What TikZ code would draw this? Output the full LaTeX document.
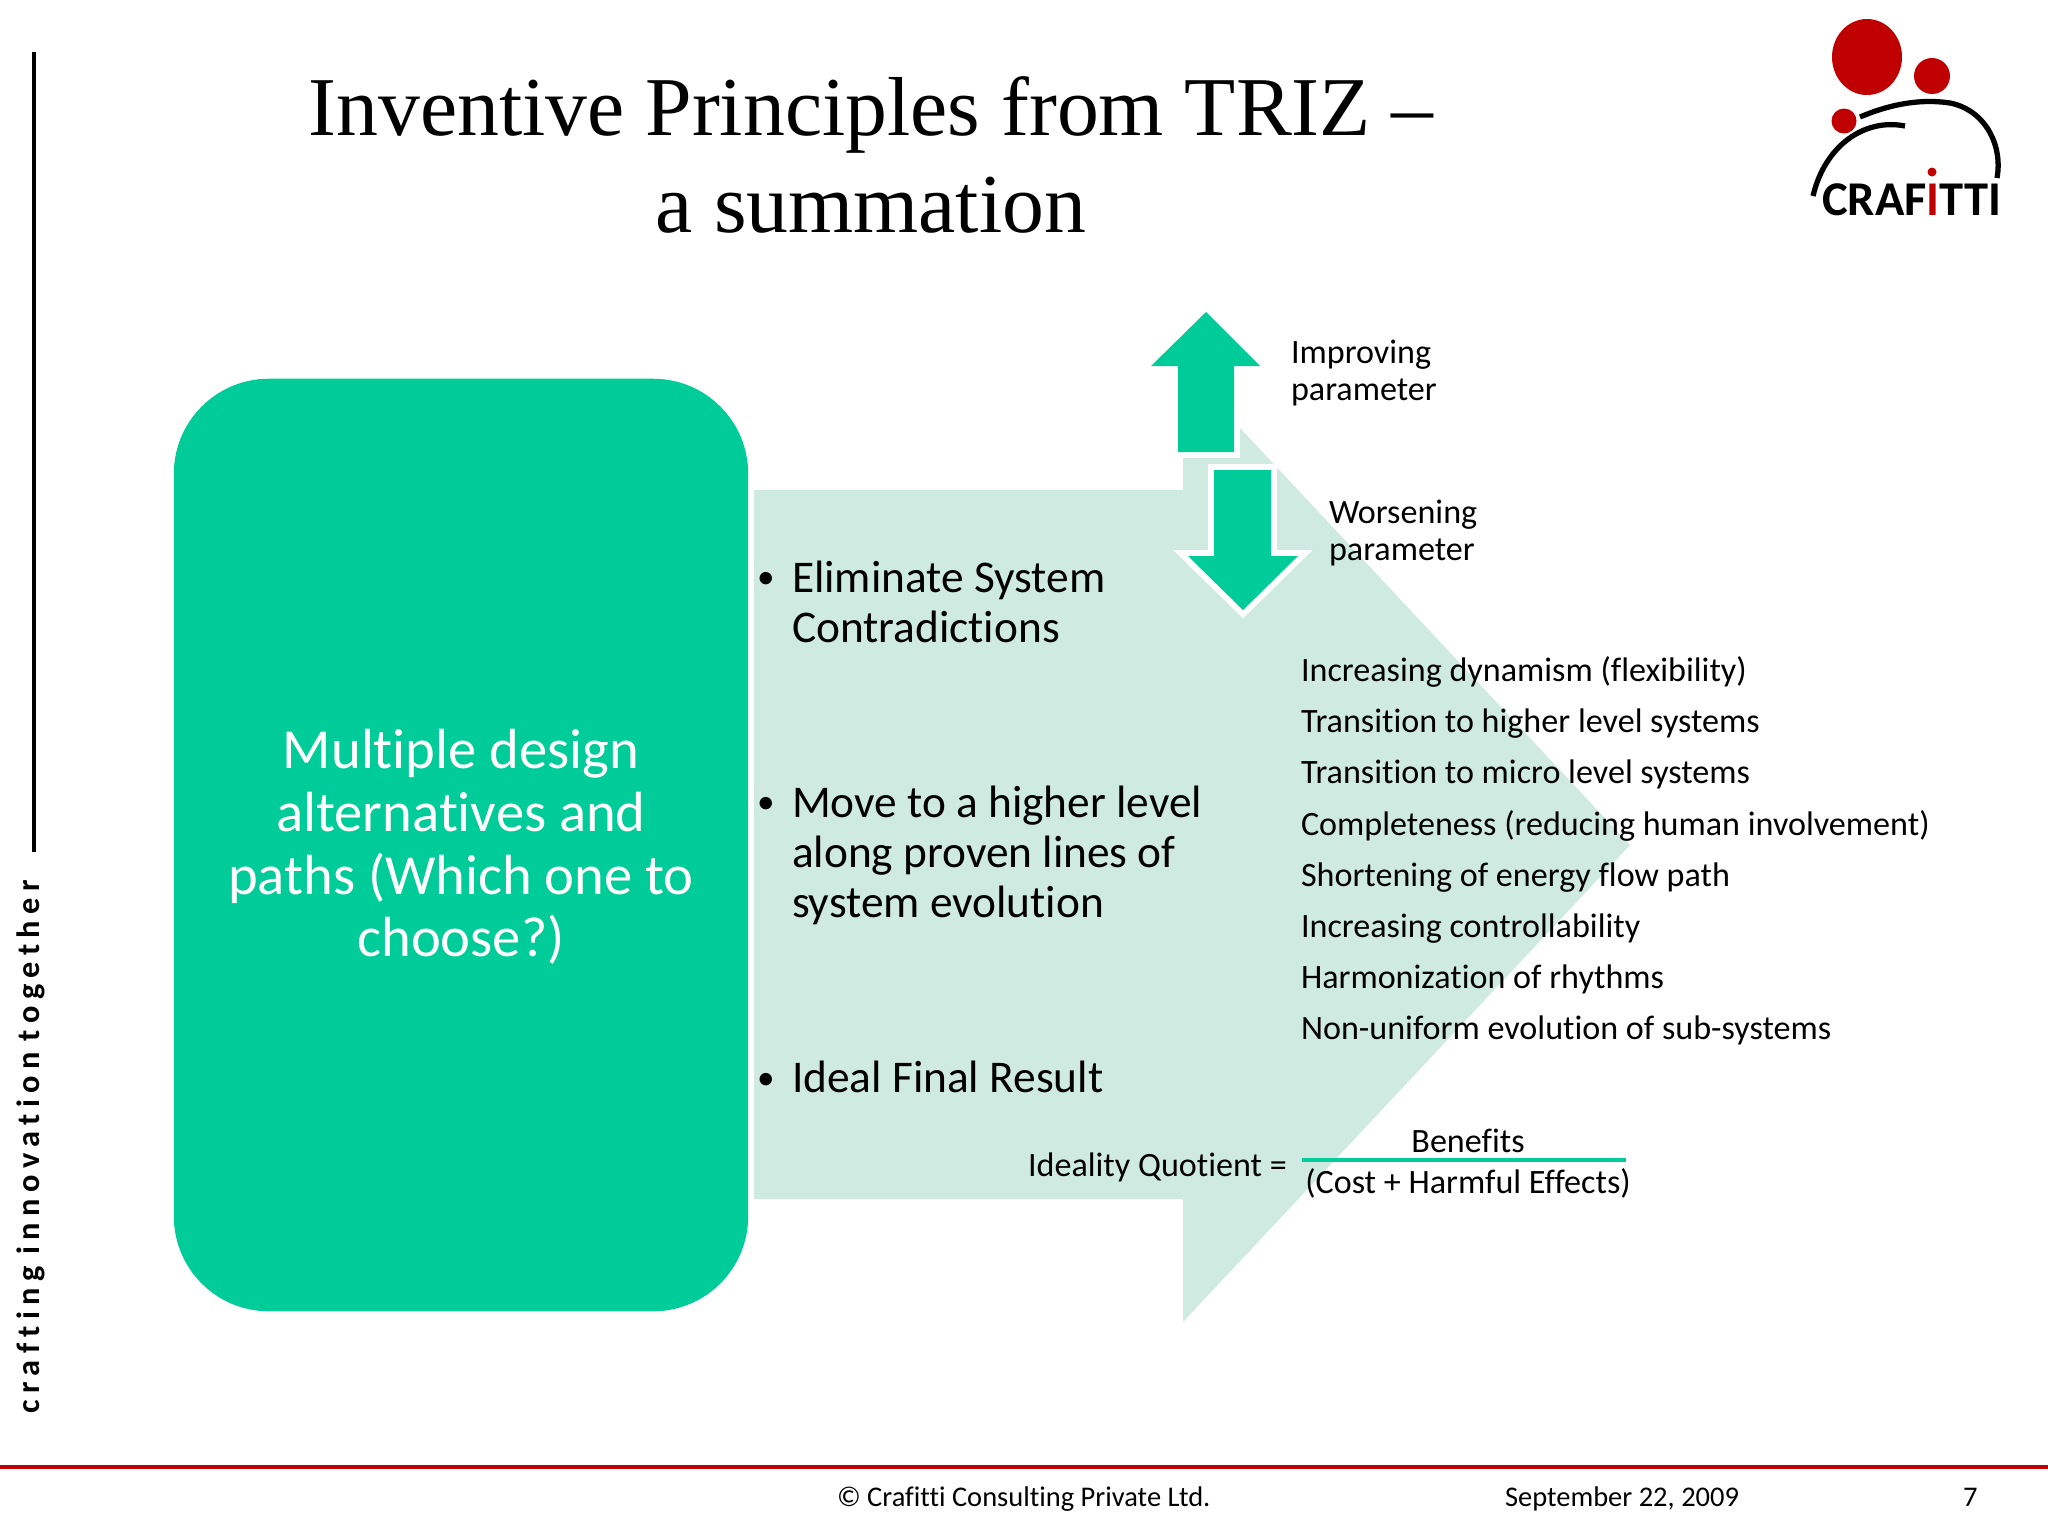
\documentclass[tikz,border=0pt]{standalone}
\usepackage{fontspec}
\setmainfont[Ligatures=NoCommon]{Carlito}
\newfontfamily\titlefont{Liberation Serif}
\newfontfamily\spacedfont[LetterSpace=20,Ligatures=NoCommon,WordSpace=0.8]{Carlito}
\definecolor{trizgreen}{HTML}{00CC99}
\definecolor{trizpale}{HTML}{CFEBE1}
\definecolor{trizred}{HTML}{C00000}
\tikzset{
  txt/.style = {inner sep=0,outer sep=0,text=black,anchor=base west},
  titletxt/.style = {txt,anchor=base,font=\titlefont\fontsize{23.8}{28}\selectfont},
  small/.style = {txt,font=\fontsize{9.7}{10.4}\selectfont},
  bullettxt/.style = {txt,font=\fontsize{12.9}{14.3}\selectfont},
  bulletdot/.style = {txt,font=\fontsize{10}{12}\selectfont},
  foot/.style = {txt,font=\fontsize{8.1}{10}\selectfont},
  halo/.style = {draw=white,line width=3.4pt,line join=miter}
}
\begin{document}
\begin{tikzpicture}[x=0.01cm,y=-0.01cm]
   \useasboundingbox (0,0) rectangle (2048,1536);
   % side bar
   \coordinate (bartop) at (34,52);
   \coordinate (barend) at (34,852);
   \draw[line width=1pt,black] (bartop) -- (barend);
   \node[inner sep=0,rotate=90,anchor=west,font=\spacedfont\bfseries\fontsize{9.2}{10}\selectfont] (sidetxt) at (31,1414) {crafting innovation together};
   % title
   \node[titletxt] (title1) at (871,135) {Inventive Principles from TRIZ –};
   \node[titletxt] (title2) at (871,232) {a summation};
   % block arrow and box
   \fill[trizpale] (754,490) -- (1183,490) -- (1183,367) -- (1630,845) -- (1183,1322) -- (1183,1199) -- (754,1199) -- cycle;
   \node[fill=trizgreen,rounded corners=27pt,minimum width=5.74cm,minimum height=9.32cm,inner sep=0] (choices) at (461,845) {};
   \node[inner sep=0,align=center,text=white,font=\fontsize{16.1}{17.8}\selectfont] (choicestxt) at (461,847)
     {Multiple design\\alternatives and\\paths (Which one to\\choose?)};
   % small arrows
   \draw[halo] (1206,312) -- (1260,366) -- (1234,366) -- (1234,452) -- (1178,452) -- (1178,366) -- (1151,366) -- cycle;
   \draw[halo] (1243,610) -- (1298,556) -- (1271,556) -- (1271,470) -- (1214,470) -- (1214,556) -- (1188,556) -- cycle;
   \fill[trizgreen] (1206,312) -- (1260,366) -- (1234,366) -- (1234,452) -- (1178,452) -- (1178,366) -- (1151,366) -- cycle;
   \fill[trizgreen] (1243,610) -- (1298,556) -- (1271,556) -- (1271,470) -- (1214,470) -- (1214,556) -- (1188,556) -- cycle;
   \node[small] (improving) at (1291,363) {Improving};
   \node[small] (improving2) at (1291,400) {parameter};
   \node[small] (worsening) at (1329,523) {Worsening};
   \node[small] (worsening2) at (1329,560) {parameter};
   % bullets
   \node[bulletdot] (b1) at (757,588) {\textbullet};
   \node[bullettxt] (elim) at (792,592) {Eliminate System};
   \node[bullettxt] (elim2) at (792,642) {Contradictions};
   \node[bulletdot] (b2) at (757,813) {\textbullet};
   \node[bullettxt] (move) at (792,817) {Move to a higher level};
   \node[bullettxt] (move2) at (792,867) {along proven lines of};
   \node[bullettxt] (move3) at (792,917) {system evolution};
   \node[bulletdot] (b3) at (757,1089) {\textbullet};
   \node[bullettxt] (ideal) at (792,1092) {Ideal Final Result};
   % list of principles
   \foreach \ypos/\name/\label in {
     681/p1/Increasing dynamism (flexibility),
     732/p2/Transition to higher level systems,
     783/p3/Transition to micro level systems,
     835/p4/Completeness (reducing human involvement),
     886/p5/Shortening of energy flow path,
     937/p6/Increasing controllability,
     988/p7/Harmonization of rhythms,
     1039/p8/Non-uniform evolution of sub-systems}
     \node[small] (\name) at (1301,\ypos) {\label};
   % quotient
   \node[small] (iq) at (1028,1176) {Ideality Quotient =};
   \node[small,anchor=base] (benefits) at (1468,1152) {Benefits};
   \node[small,anchor=base] (costs) at (1468,1193) {(Cost + Harmful Effects)};
   \coordinate (fracl) at (1302,1160);
   \coordinate (fracr) at (1626,1160);
   \draw[line width=0.9pt,trizgreen] (fracl) -- (fracr);
   % logo
   \fill[trizred] (1867,57) ellipse [x radius=35,y radius=38];
   \fill[trizred] (1932,76) circle [radius=18];
   \fill[trizred] (1844,121) circle [radius=12.5];
   \draw[line width=1.5pt,black] (1860,117) .. controls (1900,100) and (1930,100) .. (1950,103) .. controls (1985,110) and (2003,145) .. (1997,178);
   \draw[line width=1.5pt,black] (1905,126) .. controls (1865,118) and (1825,145) .. (1813,196);
   \node[txt,font=\bfseries\fontsize{13.8}{15}\selectfont] (logotxt) at (1822,215) {CRAF\textcolor{trizred}{I}TTI};
   \fill[trizred] (1932,172) circle [radius=4.5];
   % footer
   \coordinate (rulel) at (0,1467);
   \coordinate (ruler) at (2048,1467);
   \draw[line width=1.2pt,trizred] (rulel) -- (ruler);
   \node[foot] (copy) at (837,1506) {© Crafitti Consulting Private Ltd.};
   \node[foot] (date) at (1505,1506) {September 22, 2009};
   \node[foot] (page) at (1963,1506) {7};
\end{tikzpicture}
\end{document}
